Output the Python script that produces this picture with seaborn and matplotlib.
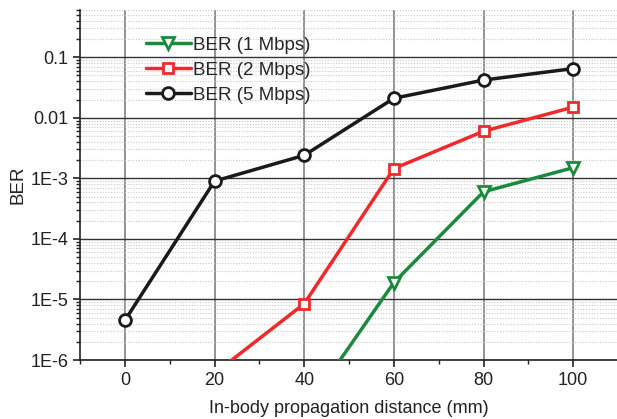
import numpy as np
import pandas as pd
import matplotlib
matplotlib.use("Agg")
import matplotlib.pyplot as plt
import matplotlib.ticker as mticker
import seaborn as sns

# data
distance = [0, 20, 40, 60, 80, 100]
ber_1mbps = [np.nan, np.nan, 1.4e-7, 1.9e-5, 6.0e-4, 1.5e-3]
ber_2mbps = [np.nan, 6.0e-7, 8.5e-6, 1.45e-3, 6.0e-3, 1.5e-2]
ber_5mbps = [4.5e-6, 9.0e-4, 2.4e-3, 2.1e-2, 4.2e-2, 6.5e-2]

series = ["BER (1 Mbps)", "BER (2 Mbps)", "BER (5 Mbps)"]
colors = ["#1b8a3c", "#ee2a2a", "#1a1a1a"]
markers = ["v", "s", "o"]

sns.set_style("white")
plt.rcParams["font.family"] = ["Liberation Sans", "DejaVu Sans"]

fig = plt.figure(figsize=(6.17, 4.19), dpi=100)
ax = fig.add_axes([0.1297, 0.1408, 0.872, 0.835])

for name, vals, c, m in zip(series, [ber_1mbps, ber_2mbps, ber_5mbps], colors, markers):
    df = pd.DataFrame({"d": distance, "ber": vals}).dropna()
    sns.lineplot(data=df, x="d", y="ber", ax=ax, color=c, lw=2.5, marker=m,
                 markersize=8.5 if m != "s" else 7.5, markerfacecolor="white",
                 markeredgecolor=c, markeredgewidth=2, label=name, zorder=5)

ax.set_yscale("log")
ax.set_xlim(-10, 110)
ax.set_ylim(1e-6, 0.6)

ax.set_xticks([0, 20, 40, 60, 80, 100])
ax.xaxis.set_minor_locator(mticker.MultipleLocator(10))
yt = [1e-6, 1e-5, 1e-4, 1e-3, 1e-2, 1e-1]
ax.yaxis.set_major_locator(mticker.FixedLocator(yt))
ax.yaxis.set_major_formatter(mticker.FixedFormatter(["1E-6", "1E-5", "1E-4", "1E-3", "0.01", "0.1"]))
ax.yaxis.set_minor_locator(mticker.LogLocator(base=10, subs=np.arange(2, 10), numticks=20))
ax.yaxis.set_minor_formatter(mticker.NullFormatter())

ax.grid(True, axis="y", which="major", color="#333333", lw=1.0)
ax.grid(True, axis="y", which="minor", color="#c8c8c8", lw=0.8, ls=(0, (1, 1.5)))
ax.grid(True, axis="x", which="major", color="#8a8a8a", lw=1.3)
ax.set_axisbelow(True)

for s in ["top", "right"]:
    ax.spines[s].set_visible(False)
for s in ["left", "bottom"]:
    ax.spines[s].set_color("#222222")
    ax.spines[s].set_linewidth(1.2)

ax.tick_params(axis="both", which="major", direction="out", length=5, width=1.2,
               color="#222222", labelsize=13, labelcolor="#222222", left=True, bottom=True)
ax.tick_params(axis="both", which="minor", direction="out", length=3, width=1,
               color="#222222", left=True, bottom=True)

ax.set_xlabel("In-body propagation distance (mm)", fontsize=13, color="#222222", labelpad=8)
ax.set_ylabel("BER", fontsize=13.5, color="#222222", labelpad=3)

ax.legend(loc="upper left", bbox_to_anchor=(0.108, 0.945), frameon=False, fontsize=13.5,
          handlelength=2.4, handletextpad=0.15, labelspacing=0.42, borderaxespad=0)

fig.savefig("out.png", dpi=100)
